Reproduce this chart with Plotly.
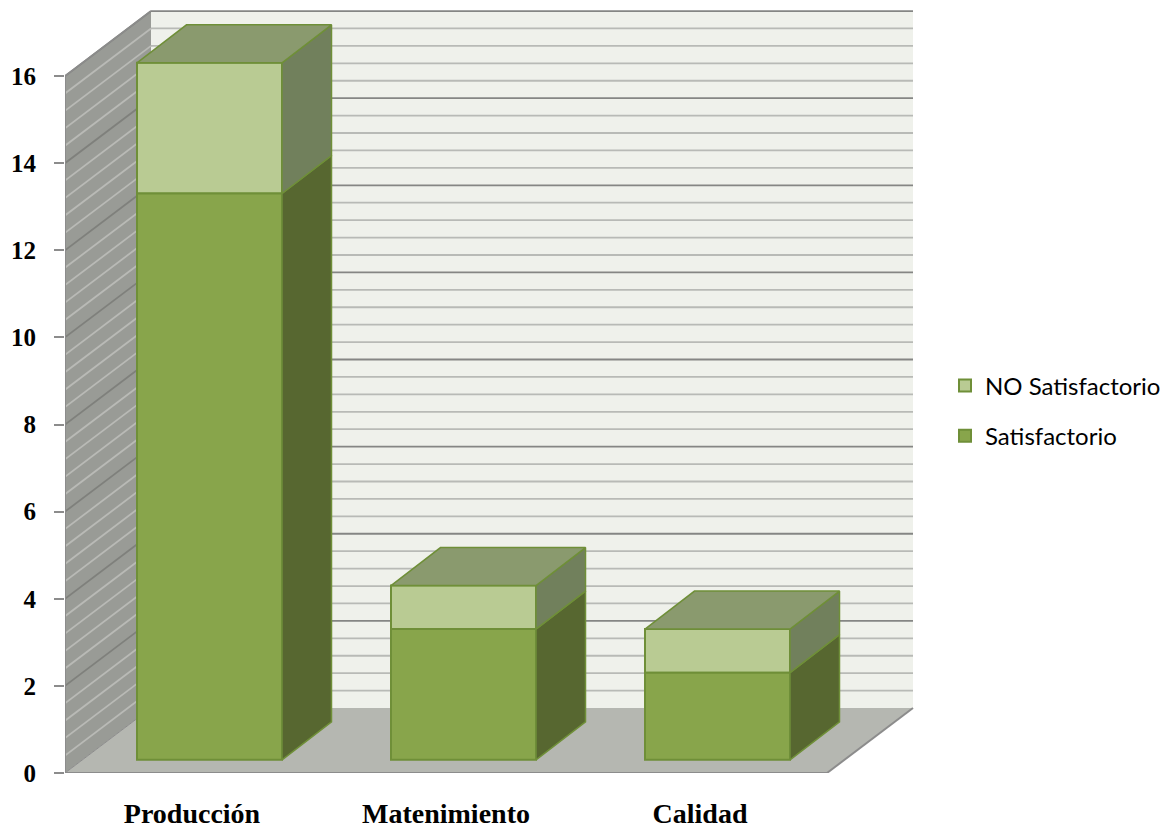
import plotly.graph_objects as go

categorias = ["Producción", "Matenimiento", "Calidad"]
satisfactorio = [13, 3, 2]
no_satisfactorio = [3, 1, 1]
y_ticks = [0, 2, 4, 6, 8, 10, 12, 14, 16]

# Pseudo-3D geometry, in axis units
PX_X, PX_Y = 254.0, 43.56
WALL_DX, WALL_DY = 86 / PX_X, 65 / PX_Y
BAR_DX, BAR_DY = 49.5 / PX_X, 38 / PX_Y
BAR_LIFT = 13.2 / PX_Y
BAR_W = 145 / PX_X
BAR_OFF = (137 - 65) / PX_X - 0.5
XMIN, XMAX = -0.5, 2.5

C_EDGE = "#6f8f38"
C_SAT, C_SAT_SIDE = "#88a54b", "#576730"
C_NO, C_NO_SIDE = "#b9cb93", "#71805c"
C_TOP = "#8a9a6e"


def path(pts):
    return "M" + " L".join(f"{x},{y}" for x, y in pts) + " Z"


shapes = []
def poly(pts, fill):
    shapes.append(dict(type="path", path=path(pts), xref="x", yref="y", layer="below",
                       fillcolor=fill, line=dict(width=0)))
def seg(x0, y0, x1, y1, color, w):
    shapes.append(dict(type="line", x0=x0, y0=y0, x1=x1, y1=y1, xref="x", yref="y",
                       layer="below", line=dict(color=color, width=w)))

TOP = 16
poly([(XMIN + WALL_DX, WALL_DY), (XMAX + WALL_DX, WALL_DY),
      (XMAX + WALL_DX, WALL_DY + TOP), (XMIN + WALL_DX, WALL_DY + TOP)], "#eff1eb")
poly([(XMIN, 0), (XMIN + WALL_DX, WALL_DY), (XMIN + WALL_DX, WALL_DY + TOP), (XMIN, TOP)], "#999b96")
poly([(XMIN, 0), (XMAX, 0), (XMAX + WALL_DX, WALL_DY), (XMIN + WALL_DX, WALL_DY)], "#b5b7b1")

for k in range(1, 41):
    v = k * 0.4
    major = k % 5 == 0
    col_back = "#858684" if major else "#b8bab6"
    col_left = "#7f807c" if major else "#b9bab6"
    w = 1.8
    seg(XMIN + WALL_DX, v + WALL_DY, XMAX + WALL_DX, v + WALL_DY, col_back, w)
    seg(XMIN, v, XMIN + WALL_DX, v + WALL_DY, col_left, w)

seg(XMIN, 0, XMIN, TOP, "#8c8c8c", 2)
seg(XMIN, 0, XMAX, 0, "#8c8c8c", 2)
seg(XMAX, 0, XMAX + WALL_DX, WALL_DY, "#8c8c8c", 2)
seg(XMIN, 0, XMIN + WALL_DX, WALL_DY, "#8c8c8c", 1)
seg(XMIN, TOP, XMIN + WALL_DX, TOP + WALL_DY, "#8c8c8c", 1.5)

fig = go.Figure()

base_no = [BAR_LIFT + s for s in satisfactorio]
fig.add_trace(go.Bar(x=[0, 1, 2], y=no_satisfactorio, base=base_no, name="NO Satisfactorio",
                     width=BAR_W, offset=BAR_OFF, marker=dict(color=C_NO, line=dict(color=C_EDGE, width=2)),
                     legendgroup="no", hoverinfo="skip"))
fig.add_trace(go.Bar(x=[0, 1, 2], y=satisfactorio, base=BAR_LIFT, name="Satisfactorio",
                     width=BAR_W, offset=BAR_OFF, marker=dict(color=C_SAT, line=dict(color=C_EDGE, width=2)),
                     legendgroup="sat", hoverinfo="skip"))


def face(pts, fill):
    xs = [p[0] for p in pts] + [pts[0][0]]
    ys = [p[1] for p in pts] + [pts[0][1]]
    fig.add_trace(go.Scatter(x=xs, y=ys, mode="lines", fill="toself", fillcolor=fill,
                             line=dict(color=C_EDGE, width=1.5), showlegend=False, hoverinfo="skip"))


for i in range(len(categorias)):
    left = i + BAR_OFF
    right = left + BAR_W
    y0 = BAR_LIFT
    y1 = y0 + satisfactorio[i]
    y2 = y1 + no_satisfactorio[i]
    face([(right, y0), (right + BAR_DX, y0 + BAR_DY), (right + BAR_DX, y1 + BAR_DY), (right, y1)], C_SAT_SIDE)
    face([(right, y1), (right + BAR_DX, y1 + BAR_DY), (right + BAR_DX, y2 + BAR_DY), (right, y2)], C_NO_SIDE)
    face([(left, y2), (right, y2), (right + BAR_DX, y2 + BAR_DY), (left + BAR_DX, y2 + BAR_DY)], C_TOP)

# The page puts the figure 8 px in from the window's corner
W, H = 1161, 821
M_L, M_T, M_B = 57, 0, 56
PLOT_R = 922
fig.update_layout(
    width=W, height=H, autosize=False,
    margin=dict(l=M_L, r=W - PLOT_R, t=M_T, b=M_B, pad=0, autoexpand=False),
    paper_bgcolor="white", plot_bgcolor="rgba(0,0,0,0)",
    barmode="overlay", shapes=shapes,
    xaxis=dict(range=[XMIN, XMIN + (PLOT_R - M_L) / PX_X], tickmode="array", tickvals=[0, 1, 2],
               ticktext=categorias, showgrid=False, zeroline=False, showline=False, automargin=False,
               ticks="outside", ticklen=15, tickcolor="rgba(0,0,0,0)",
               tickfont=dict(family="Liberation Serif", size=28, color="black", weight="bold")),
    yaxis=dict(range=[0, (H - M_B - M_T) / PX_Y], tickmode="array", tickvals=y_ticks,
               showgrid=False, zeroline=False, showline=False, automargin=False,
               ticks="outside", ticklen=10, tickcolor="#8c8c8c", tickwidth=2, ticklabelstandoff=13,
               tickfont=dict(family="Liberation Serif", size=25, color="black", weight="bold")),
    legend=dict(x=(937 - M_L) / (PLOT_R - M_L), y=1 - (403 - M_T) / (H - M_T - M_B),
                xanchor="left", yanchor="middle",
                traceorder="grouped", tracegroupgap=16, bgcolor="rgba(0,0,0,0)",
                font=dict(family="Lato", size=24, color="black")),
    showlegend=True,
)

fig.write_html("out.html")
